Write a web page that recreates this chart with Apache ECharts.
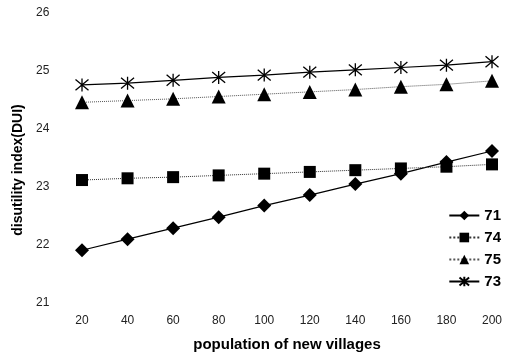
<!DOCTYPE html>
<html><head><meta charset="utf-8">
<script src="https://cdn.jsdelivr.net/npm/echarts@6/dist/echarts.min.js"></script>
<style>html,body{margin:0;padding:0;background:#fff}#c{width:517px;height:353px}</style>
</head><body><div id="c"></div>
<script>
var population = [20, 40, 60, 80, 100, 120, 140, 160, 180, 200];
var s71 = [21.91, 22.10, 22.29, 22.48, 22.68, 22.86, 23.05, 23.23, 23.43, 23.62];
var s74 = [23.12, 23.15, 23.17, 23.20, 23.23, 23.26, 23.29, 23.32, 23.35, 23.39];
var s75 = [24.46, 24.49, 24.52, 24.56, 24.60, 24.64, 24.68, 24.73, 24.77, 24.83];
var s73 = [24.76, 24.79, 24.84, 24.89, 24.93, 24.98, 25.02, 25.06, 25.10, 25.16];
var yTicks = [21, 22, 23, 24, 25, 26];

function pts(arr){ return population.map(function(p,i){ return [p, arr[i]]; }); }
var starPath = 'path://M0 0L10 10M10 0L0 10M5 -1L5 11';
var chart = echarts.init(document.getElementById('c'));
var font = 'Liberation Sans Narrow, Liberation Sans, Arial, sans-serif';
chart.setOption({
  animation: false,
  backgroundColor: '#fff',
  grid: {left: 82, right: 25, top: 13, bottom: 50, outerBoundsMode: 'none', containLabel: false},
  xAxis: {
    type: 'value', min: 20, max: 200, interval: 20,
    name: 'population of new villages', nameLocation: 'middle', nameGap: 34,
    nameTextStyle: {fontFamily: 'Liberation Sans, Arial, sans-serif', fontWeight: 'bold', fontSize: 15, color: '#000'},
    axisLine: {show: false}, axisTick: {show: false}, splitLine: {show: false},
    axisLabel: {color: '#222', fontSize: 12, fontFamily: font, margin: 12}
  },
  yAxis: {
    type: 'value', min: yTicks[0], max: yTicks[yTicks.length-1], interval: 1,
    name: 'disutility index(DUI)', nameLocation: 'middle', nameGap: 52,
    nameTextStyle: {fontFamily: 'Liberation Sans, Arial, sans-serif', fontWeight: 'bold', fontSize: 14, color: '#000', padding: [0, 24, 0, 0]},
    axisLine: {show: false}, axisTick: {show: false}, splitLine: {show: false},
    axisLabel: {color: '#222', fontSize: 12, fontFamily: font, margin: 46, align: 'left'}
  },
  legend: {
    orient: 'vertical', right: 11, top: 203, itemGap: 7, itemWidth: 30, itemHeight: 12,
    textStyle: {fontSize: 15, fontWeight: 'bold', color: '#000', fontFamily: 'Liberation Sans, Arial, sans-serif'},
    data: ['71', '74', '75', '73']
  },
  series: [
    {name: '71', type: 'line', data: pts(s71), symbol: 'diamond', symbolSize: 14,
     lineStyle: {color: '#000', width: 1.2}, itemStyle: {color: '#000'}},
    {name: '74', type: 'line', data: pts(s74), symbol: 'rect', symbolSize: 12,
     lineStyle: {color: '#333', width: 1, type: 'dotted'}, itemStyle: {color: '#000'}},
    {name: '75', type: 'line', data: pts(s75), symbol: 'triangle', symbolSize: 14,
     lineStyle: {color: '#555', width: 1, type: 'dotted'}, itemStyle: {color: '#000'}},
    {name: '73', type: 'line', data: pts(s73), symbol: starPath, symbolSize: 13,
     lineStyle: {color: '#000', width: 1.2}, itemStyle: {color: '#000', borderColor: '#000', borderWidth: 1.3}}
  ]
});
</script></body></html>
